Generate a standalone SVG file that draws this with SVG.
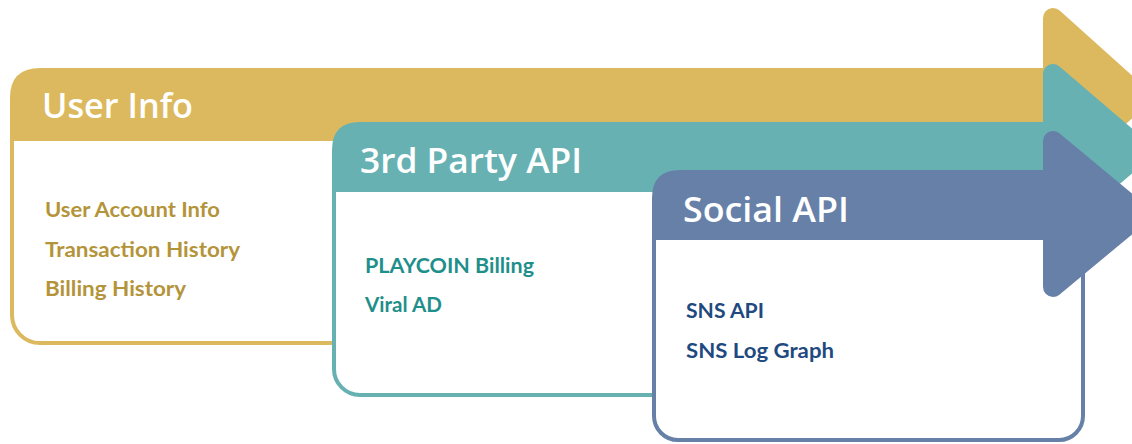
<svg xmlns="http://www.w3.org/2000/svg" width="1132" height="444" viewBox="0 0 1132 444">
<style>
.title{font-family:"Open Sans","Noto Sans",sans-serif;font-weight:600;font-size:34px;fill:#ffffff}
.item{font-family:Lato,"Open Sans",sans-serif;font-weight:700;font-size:20px}
.gold{fill:#dcb95e}
.teal{fill:#67b1b3}
.blue{fill:#6780a8}
</style>
<rect width="1132" height="444" fill="#ffffff"/>
<g id="user-info">
  <rect x="12" y="90" width="640" height="253" rx="28" fill="#ffffff" stroke="#dcb95e" stroke-width="4"/>
  <path class="gold" d="M10,98 Q10,68 40,68 L1056,68 L1056,141 L10,141 Z"/>
  <polygon class="gold" points="1053,18 1053,176 1141,97" stroke="#dcb95e" stroke-width="20" stroke-linejoin="round"/>
  <text class="title" x="42" y="118" textLength="151" lengthAdjust="spacingAndGlyphs">User Info</text>
  <g class="item" fill="#b4943a">
    <text x="45" y="217" textLength="175" lengthAdjust="spacingAndGlyphs">User Account Info</text>
    <text x="45" y="257" textLength="195" lengthAdjust="spacingAndGlyphs">Transaction History</text>
    <text x="45" y="296" textLength="141" lengthAdjust="spacingAndGlyphs">Billing History</text>
  </g>
</g>
<g id="third-party-api">
  <rect x="334" y="150" width="560" height="245" rx="26" fill="#ffffff" stroke="#67b1b3" stroke-width="4"/>
  <path class="teal" d="M332,150 Q332,122 360,122 L1056,122 L1056,192 L332,192 Z"/>
  <polygon class="teal" points="1053,74 1053,228 1143,151" stroke="#67b1b3" stroke-width="20" stroke-linejoin="round"/>
  <text class="title" x="360" y="173" textLength="222" lengthAdjust="spacingAndGlyphs">3rd Party API</text>
  <g class="item" fill="#1f8f8b">
    <text x="365" y="273" textLength="169" lengthAdjust="spacingAndGlyphs">PLAYCOIN Billing</text>
    <text x="365" y="312" textLength="77" lengthAdjust="spacingAndGlyphs">Viral AD</text>
  </g>
</g>
<g id="social-api">
  <rect x="654" y="196" width="429" height="244" rx="24" fill="#ffffff" stroke="#6780a8" stroke-width="4"/>
  <path class="blue" d="M652,198 Q652,170 680,170 L1056,170 L1056,240 L652,240 Z"/>
  <polygon class="blue" points="1053,141 1053,287 1141,214" stroke="#6780a8" stroke-width="20" stroke-linejoin="round"/>
  <text class="title" x="683" y="222" textLength="166" lengthAdjust="spacingAndGlyphs">Social API</text>
  <g class="item" fill="#1f4a80">
    <text x="686" y="318" textLength="78" lengthAdjust="spacingAndGlyphs">SNS API</text>
    <text x="686" y="358" textLength="148" lengthAdjust="spacingAndGlyphs">SNS Log Graph</text>
  </g>
</g>
<g id="connectors"></g>
</svg>
